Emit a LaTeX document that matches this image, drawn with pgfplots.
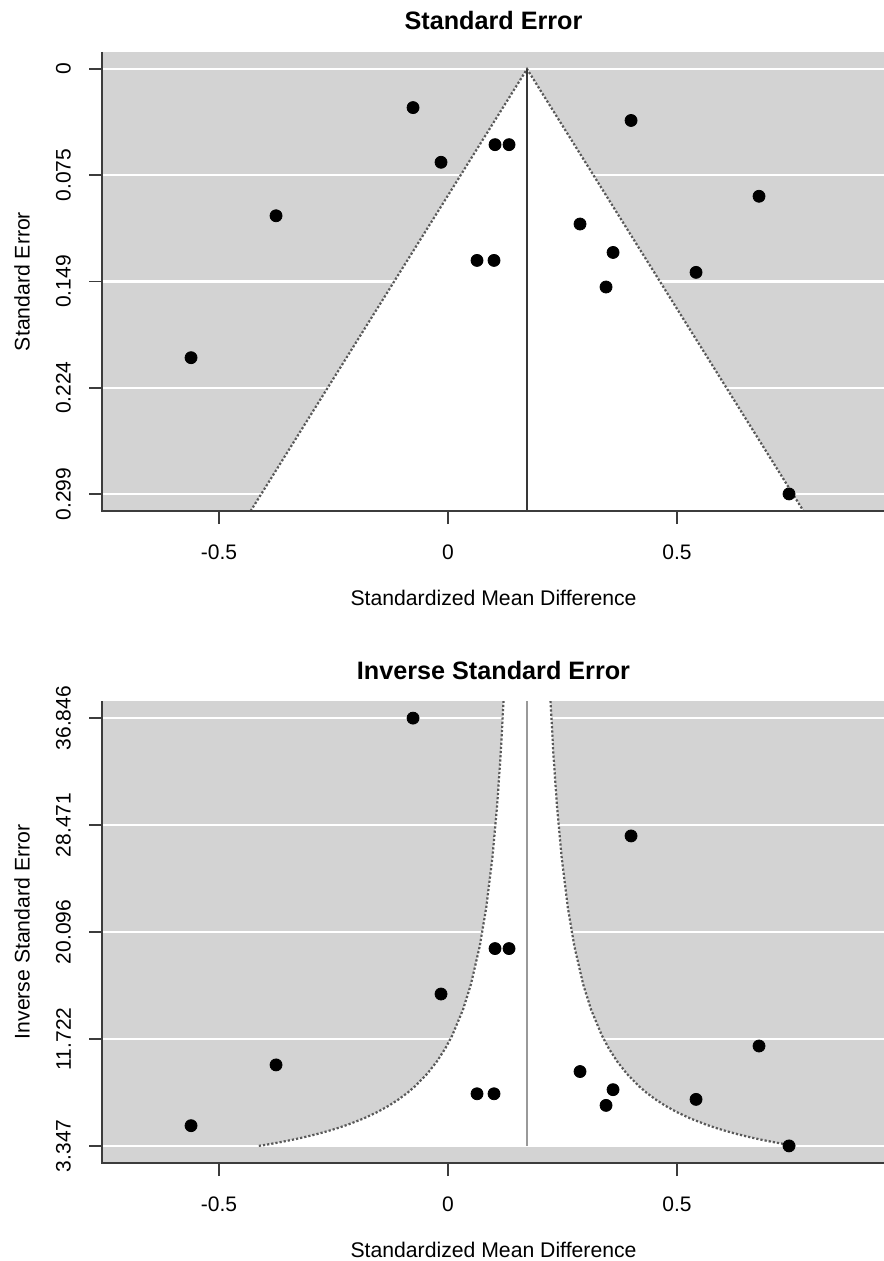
\documentclass[border=0pt]{standalone}
\usepackage{fontspec}
\setmainfont{Liberation Sans}
\usepackage{pgfplots}
\pgfplotsset{compat=1.18}
\definecolor{bgray}{RGB}{211,211,211}
\definecolor{axcol}{RGB}{60,60,60}

% SE (top) data: yi, sei
\pgfplotstableread{
yi sei
-0.0764 0.02714
-0.0153 0.0656
0.1026 0.0532
0.1332 0.0532
-0.3755 0.1032
0.0633 0.1346
0.1004 0.1346
-0.5611 0.2030
0.3996 0.0362
0.6790 0.0895
0.2882 0.1090
0.3603 0.1290
0.5415 0.1430
0.3450 0.1533
0.7445 0.2988
}\setable

% inverse SE (bottom) data: yi, 1/sei
\pgfplotstableread{
yi ise
-0.0764 36.846
-0.0153 15.24
0.1026 18.80
0.1332 18.80
-0.3755 9.69
0.0633 7.43
0.1004 7.43
-0.5611 4.93
0.3996 27.62
0.6790 11.17
0.2882 9.17
0.3603 7.75
0.5415 6.99
0.3450 6.52
0.7445 3.347
}\isetable

\pgfplotsset{
  funnelstyle/.style={
    scale only axis,
    width=391.5pt,
    xmin=-0.7555, xmax=0.9541,
    axis background/.style={fill=bgray},
    axis line style={draw=none},
    tick align=outside,
    major tick length=6.5pt,
    tick style={line width=0.9pt, color=axcol},
    xtick={-0.5,0,0.5},
    xticklabels={-0.5,0,0.5},
    ymajorgrids,
    major grid style={white, line width=1.1pt},
    ticklabel style={font=\fontsize{10.5}{12}\selectfont},
    label style={font=\fontsize{10.6}{12}\selectfont},
    title style={font=\fontsize{12.6}{14}\selectfont\bfseries},
    yticklabel style={rotate=90, anchor=south},
    xticklabel shift=7pt,
    yticklabel shift=5.5pt,
    xtick pos=left, ytick pos=left,
    every axis title shift=0pt,
    clip=true,
  }
}

\begin{document}
\begin{tikzpicture}
\useasboundingbox (0,0) rectangle (441.5pt,-630.5pt);

% ---------------- top: standard error ----------------
\begin{axis}[funnelstyle,
  at={(51pt,-255.5pt)}, anchor=south west,
  height=229.5pt,
  ymin=-0.01195, ymax=0.3108, y dir=reverse,
  ytick={0,0.0747,0.1494,0.2241,0.2988},
  yticklabels={0,0.075,0.149,0.224,0.299},
  title={Standard Error},
  title style={at={(axis description cs:0.5,1.0697)}, anchor=center},
  xlabel={Standardized Mean Difference},
  xlabel style={at={(axis description cs:0.5,-0.1895)}, anchor=center},
  ylabel={Standard Error},
  ylabel style={at={(axis description cs:-0.1022,0.5)}, anchor=center, rotate=0},
]
\addplot[fill=white, draw=none] coordinates {(-0.431,0.3108) (0.1725,0) (0.776,0.3108)} -- cycle;
\addplot[densely dotted, color=black!65, line width=1.1pt] coordinates {(-0.431,0.3108) (0.1725,0) (0.776,0.3108)};
\addplot[color=black!78, line width=1.1pt] coordinates {(0.1725,0) (0.1725,0.3108)};
\addplot[only marks, mark=*, mark size=3pt, color=black] table[x=yi, y=sei] {\setable};
\end{axis}
\draw[axcol, line width=1pt] (51pt,-26pt) -- (51pt,-255.5pt) -- (442.5pt,-255.5pt);

% ---------------- bottom: inverse standard error ----------------
\begin{axis}[funnelstyle,
  at={(51pt,-581.5pt)}, anchor=south west,
  height=231pt,
  ymin=2.007, ymax=38.186,
  ytick={3.347,11.722,20.096,28.471,36.846},
  yticklabels={3.347,11.722,20.096,28.471,36.846},
  title={Inverse Standard Error},
  title style={at={(axis description cs:0.5,1.0671)}, anchor=center},
  xlabel={Standardized Mean Difference},
  xlabel style={at={(axis description cs:0.5,-0.1883)}, anchor=center},
  ylabel={Inverse Standard Error},
  ylabel style={at={(axis description cs:-0.1022,0.5)}, anchor=center, rotate=0},
]
\addplot[fill=white, draw=none] coordinates {
(-0.4131,3.347) (-0.3956,3.45) (-0.3719,3.6) (-0.3433,3.8) (-0.3175,4) (-0.2887,4.25)
(-0.2631,4.5) (-0.2401,4.75) (-0.2195,5) (-0.1839,5.5) (-0.1542,6) (-0.129,6.5)
(-0.1075,7) (-0.0888,7.5) (-0.0725,8) (-0.0453,9) (-0.0235,10) (-0.0057,11)
(0.0092,12) (0.0325,14) (0.05,16) (0.0693,19) (0.0834,22) (0.0971,26)
(0.1072,30) (0.1149,34) (0.1212,38.186)
(0.2238,38.186) (0.2301,34) (0.2378,30) (0.2479,26) (0.2616,22) (0.2757,19)
(0.295,16) (0.3125,14) (0.3358,12) (0.3507,11) (0.3685,10) (0.3903,9)
(0.4175,8) (0.4338,7.5) (0.4525,7) (0.474,6.5) (0.4992,6) (0.5289,5.5)
(0.5645,5) (0.5851,4.75) (0.6081,4.5) (0.6337,4.25) (0.6625,4) (0.6883,3.8)
(0.7169,3.6) (0.7406,3.45) (0.7581,3.347)} -- cycle;
\addplot[densely dotted, color=black!65, line width=1.1pt] coordinates {
(-0.4131,3.347) (-0.3956,3.45) (-0.3719,3.6) (-0.3433,3.8) (-0.3175,4) (-0.2887,4.25)
(-0.2631,4.5) (-0.2401,4.75) (-0.2195,5) (-0.1839,5.5) (-0.1542,6) (-0.129,6.5)
(-0.1075,7) (-0.0888,7.5) (-0.0725,8) (-0.0453,9) (-0.0235,10) (-0.0057,11)
(0.0092,12) (0.0325,14) (0.05,16) (0.0693,19) (0.0834,22) (0.0971,26)
(0.1072,30) (0.1149,34) (0.1212,38.186)};
\addplot[densely dotted, color=black!65, line width=1.1pt] coordinates {
(0.2238,38.186) (0.2301,34) (0.2378,30) (0.2479,26) (0.2616,22) (0.2757,19)
(0.295,16) (0.3125,14) (0.3358,12) (0.3507,11) (0.3685,10) (0.3903,9)
(0.4175,8) (0.4338,7.5) (0.4525,7) (0.474,6.5) (0.4992,6) (0.5289,5.5)
(0.5645,5) (0.5851,4.75) (0.6081,4.5) (0.6337,4.25) (0.6625,4) (0.6883,3.8)
(0.7169,3.6) (0.7406,3.45) (0.7581,3.347)};
\addplot[color=black!40, line width=1.1pt] coordinates {(0.1725,3.347) (0.1725,38.186)};
\addplot[only marks, mark=*, mark size=3pt, color=black] table[x=yi, y=ise] {\isetable};
\end{axis}
\draw[axcol, line width=1pt] (51pt,-350.5pt) -- (51pt,-581.5pt) -- (442.5pt,-581.5pt);
\end{tikzpicture}
\end{document}
